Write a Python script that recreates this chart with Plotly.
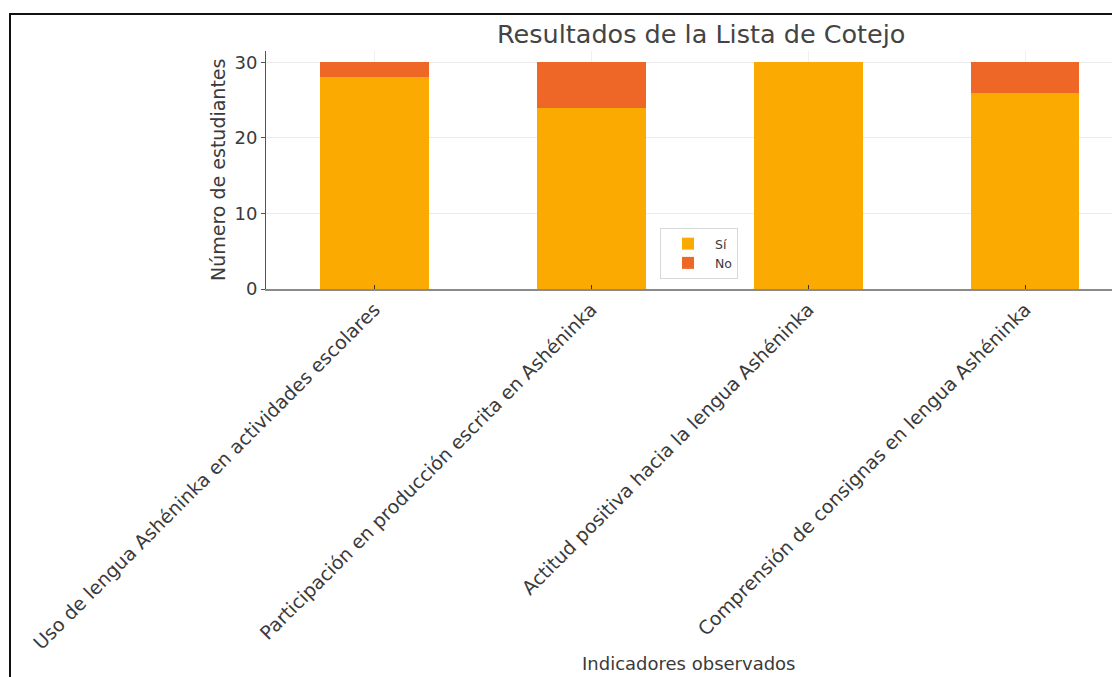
import plotly.graph_objects as go

categories = [
    "Uso de lengua Ashéninka en actividades escolares",
    "Participación en producción escrita en Ashéninka",
    "Actitud positiva hacia la lengua Ashéninka",
    "Comprensión de consignas en lengua Ashéninka",
]
si_values = [28, 24, 30, 26]
no_values = [2, 6, 0, 4]
y_ticks = [0, 10, 20, 30]

W, H = 1112, 677
L, R, T, B = 266, 0, 51, 388
pw = W - L - R
ph = H - T - B

def px_x(x):
    return (x - L) / pw

def px_y(y):
    return (H - B - y) / ph

FONT = "DejaVu Sans"
TXT = "#3a3a3a"

fig = go.Figure()
fig.add_trace(go.Bar(x=list(range(len(categories))), y=si_values, name="Sí",
                     marker=dict(color="#FAAA00", line=dict(width=0)), width=0.5))
fig.add_trace(go.Bar(x=list(range(len(categories))), y=no_values, name="No",
                     marker=dict(color="#EF6726", line=dict(width=0)), width=0.5))

fig.update_layout(
    width=W, height=H,
    margin=dict(l=L, r=R, t=T, b=B, pad=0),
    barmode="stack",
    paper_bgcolor="white", plot_bgcolor="white",
    font=dict(family=FONT, color=TXT, size=16),
    legend=dict(x=px_x(660), y=px_y(228), xanchor="left", yanchor="top",
                bordercolor="#d8d8d8", borderwidth=1, bgcolor="rgba(255,255,255,0.9)",
                font=dict(size=12.5, color=TXT), traceorder="normal", itemwidth=44,
                tracegroupgap=2),
    xaxis=dict(range=[-0.5, 3.4], tickmode="array", tickvals=list(range(len(categories))),
               ticktext=categories, tickangle=-45, showline=True, linecolor="#8a8a8a",
               linewidth=2, showgrid=True, gridcolor="#efefef", ticks="inside",
               ticklen=4, tickcolor="#333", tickfont=dict(size=19, color=TXT),
               zeroline=False, fixedrange=True),
    yaxis=dict(range=[0, 31.5], tickvals=y_ticks, showline=True, linecolor="#555",
               linewidth=1, showgrid=True, gridcolor="#ebebeb", ticks="outside",
               ticklen=4, tickcolor="#555", tickfont=dict(size=18, color=TXT),
               zeroline=False, fixedrange=True),
    annotations=[
        dict(text="Resultados de la Lista de Cotejo", x=px_x(701), y=px_y(34),
             xref="paper", yref="paper", showarrow=False, xanchor="center", yanchor="middle",
             font=dict(size=25.5, color="#444")),
        dict(text="Número de estudiantes", x=px_x(218), y=px_y(170), textangle=-90,
             xref="paper", yref="paper", showarrow=False, xanchor="center", yanchor="middle",
             font=dict(size=19, color=TXT)),
        dict(text="Indicadores observados", x=px_x(688), y=px_y(664),
             xref="paper", yref="paper", showarrow=False, xanchor="center", yanchor="middle",
             font=dict(size=18, color=TXT)),
    ],
    shapes=[
        dict(type="line", xref="paper", yref="paper", x0=px_x(9), x1=px_x(1130),
             y0=px_y(14), y1=px_y(14), line=dict(color="#111", width=2)),
        dict(type="line", xref="paper", yref="paper", x0=px_x(10), x1=px_x(10),
             y0=px_y(14), y1=px_y(700), line=dict(color="#111", width=2)),
    ],
    showlegend=True,
)

fig.write_html("out.html")
